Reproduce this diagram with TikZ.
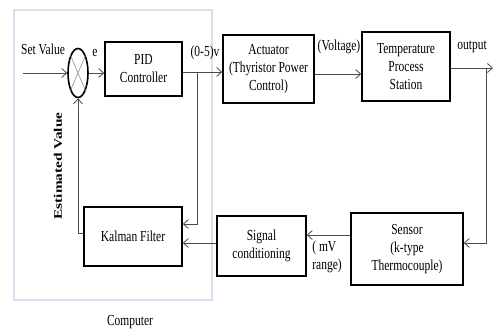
\documentclass[tikz,border=0pt]{standalone}
\usepackage{fontspec}
\setmainfont{Liberation Serif}
\usepackage{tikz}
\usetikzlibrary{arrows.meta,shapes.geometric}
\definecolor{pcframe}{RGB}{214,224,238}

\tikzset{
  blk/.style={draw, line width=1.6pt, align=center, inner sep=0pt, yscale=1.33,
    font=\fontsize{11.5}{13.5}\selectfont},
  lbl/.style={align=left, inner sep=0pt, yscale=1.33, font=\fontsize{11.5}{13.5}\selectfont},
  arr/.style={draw=black!70, line width=0.8pt, -{Straight Barb[length=5pt,width=9pt]}},
  ln/.style={draw=black!70, line width=0.8pt}
}

\begin{document}
\begin{tikzpicture}[x=1pt, y=-1pt]
\useasboundingbox (0,0) rectangle (494,329);

% computer frame
\draw[pcframe, line width=1.5pt] (14,10) rectangle (212,300);
\node[lbl] (PC) at (130,322) {Computer};

% blocks
\node[blk, minimum width=77pt, minimum height=40.6pt] (PID) at (143.5,69) {PID\\Controller};
\node[blk, minimum width=91pt, minimum height=51.1pt] (Act) at (268.5,69) {Actuator\\(Thyristor Power\\Control)};
\node[blk, minimum width=88pt, minimum height=51.9pt] (Temp) at (406,66.5) {Temperature\\Process\\Station};
\node[blk, minimum width=112pt, minimum height=54.1pt] (Sen) at (407,249) {Sensor\\(k-type\\Thermocouple)};
\node[blk, minimum width=89pt, minimum height=45.1pt] (Sig) at (261.5,246) {Signal\\conditioning};
\node[blk, minimum width=98pt, minimum height=44.4pt] (KF) at (133,236.5) {Kalman Filter};

% summing point
\node[draw, ellipse, line width=1.6pt, minimum width=20pt, minimum height=49pt, inner sep=0pt] (S) at (78,73) {};
\draw[black!50, line width=0.5pt] (S.north west) -- (S.south east);
\draw[black!50, line width=0.5pt] (S.north east) -- (S.south west);

% labels
\node[lbl] (sv) at (43,49) {Set Value};
\node[lbl] (e) at (95,53) {e};
\node[lbl] (v) at (205,53) {(0-5)v};
\node[lbl] (volt) at (339,47) {(Voltage)};
\node[lbl] (outl) at (472,47) {output};
\node[lbl] (mv) at (327,257) {( mV\\range)};
\node[inner sep=0pt, rotate=90, xscale=1.33, font=\fontsize{11.5}{13.5}\selectfont\bfseries] (est) at (58,166) {Estimated Value};

% connectors
\coordinate (in) at (23,73);
\coordinate (j1) at (197,72);
\coordinate (j2) at (486,68);
\coordinate (out) at (493,68);
\draw[arr] (in) -- (S.west);
\draw[arr] (S.east) -- (S.east -| PID.west);
\draw[arr] ([yshift=-3pt]PID.east) -- ([yshift=-3pt]Act.west);
\draw[arr] (j1) |- ([yshift=12.5pt]KF.east);
\draw[arr] ([yshift=-5pt]Act.east) -- ([yshift=-7.5pt]Temp.west);
\draw[arr] ([yshift=-1.5pt]Temp.east) -- (out);
\draw[arr] (j2) |- ([yshift=6pt]Sen.east);
\draw[arr] ([yshift=14pt]Sen.west) -- ([yshift=11pt]Sig.east);
\draw[arr] ([yshift=3pt]Sig.west) -- ([yshift=-6.5pt]KF.east);
\draw[arr] ([yshift=3.5pt]KF.west) -| (S.south);
\end{tikzpicture}
\end{document}
